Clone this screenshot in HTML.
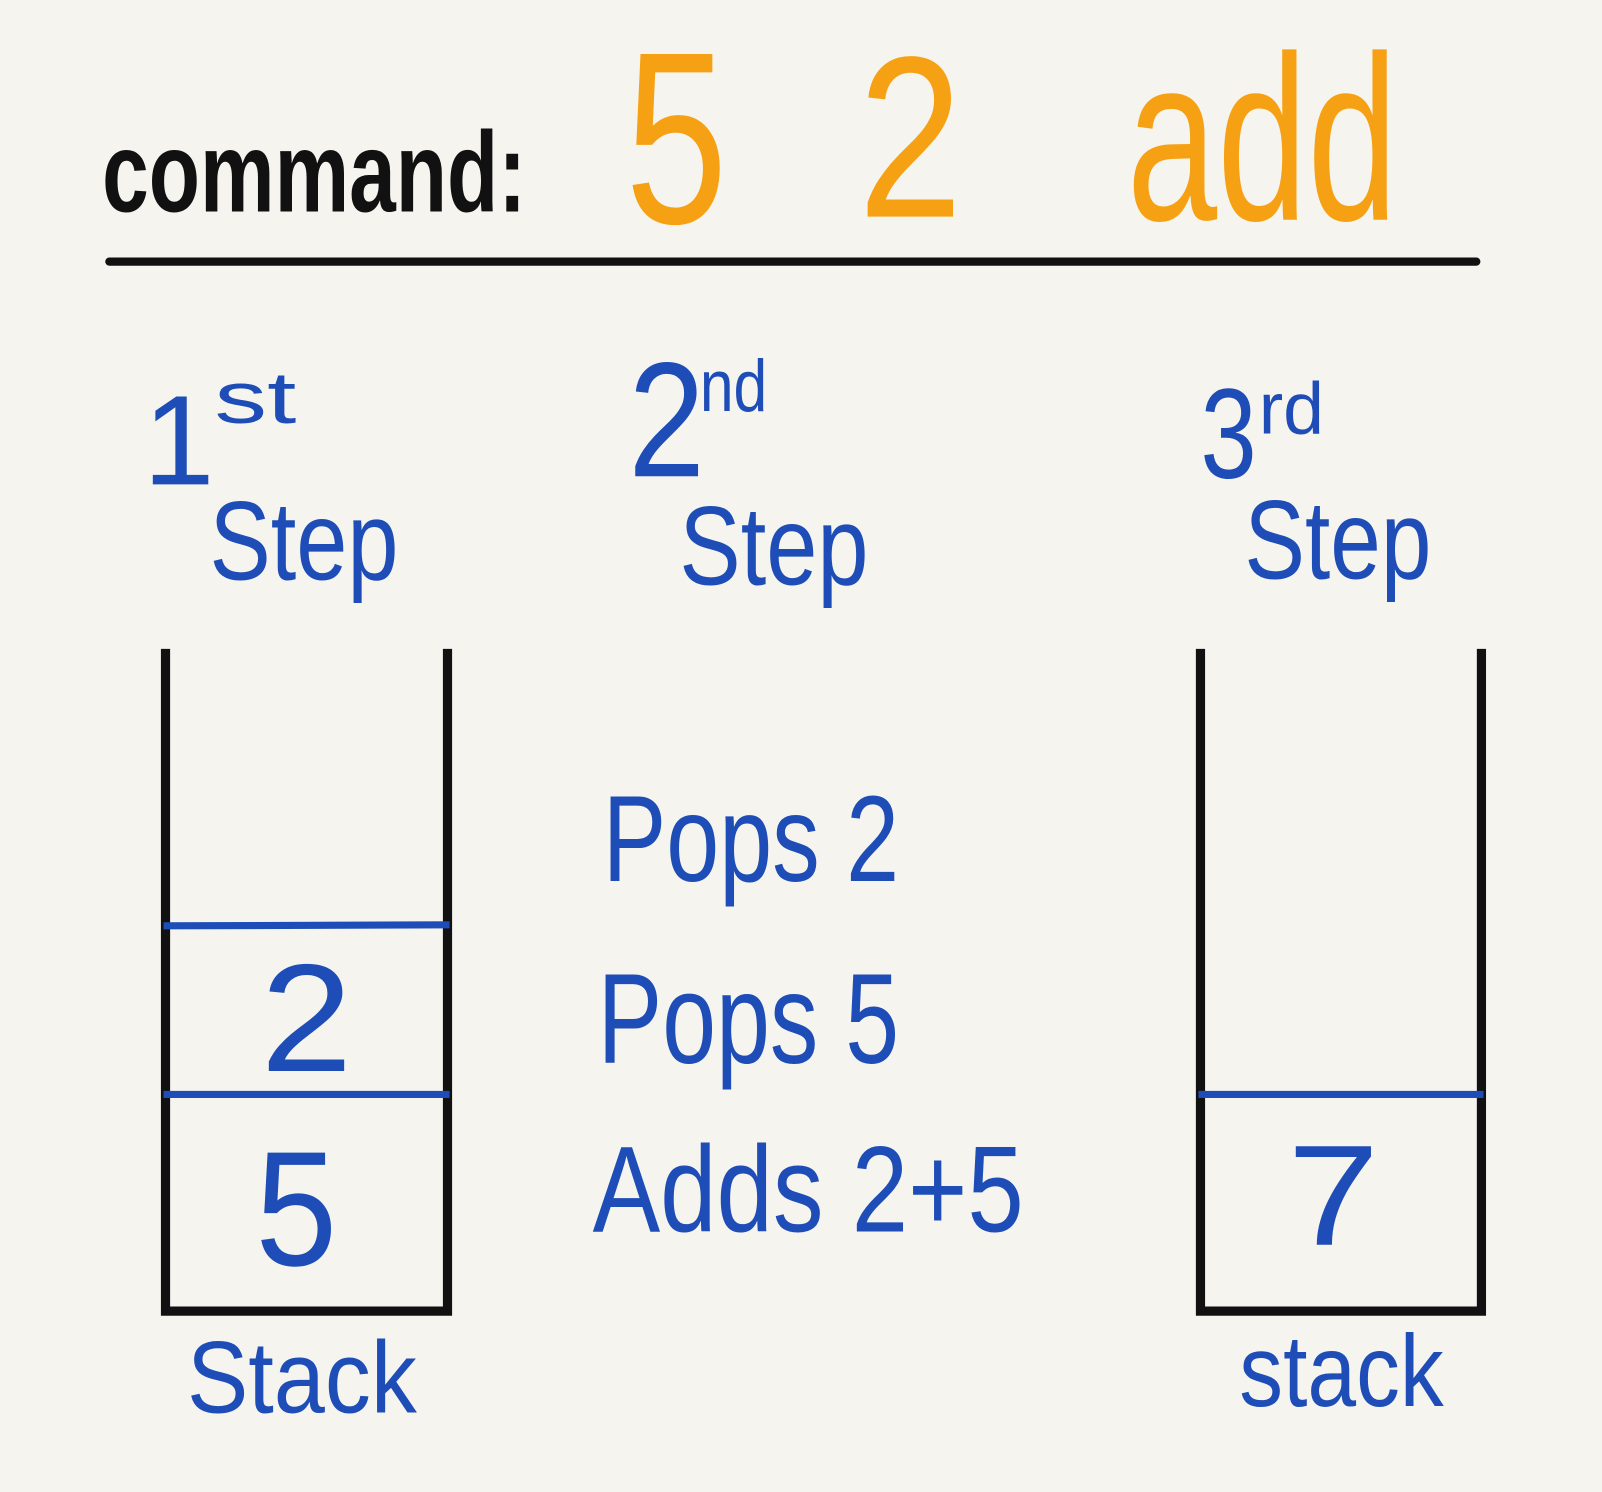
<!DOCTYPE html>
<html>
<head>
<meta charset="utf-8">
<style>
html,body{margin:0;padding:0;background:#f6f4ef;}
svg{display:block;}
text{font-family:"Liberation Sans","DejaVu Sans",sans-serif;}
.blue{fill:#1e4db7;}
.org{fill:#f6a113;}
</style>
</head>
<body>
<svg width="1602" height="1492" viewBox="0 0 1568 1460" preserveAspectRatio="none" xmlns="http://www.w3.org/2000/svg">
  <rect x="0" y="0" width="1568" height="1460" fill="#f6f4ef"/>
  <text x="100" y="207" font-size="112" font-weight="bold" fill="#111" textLength="415" lengthAdjust="spacingAndGlyphs">command:</text>
  <text class="org" x="612" y="218" font-size="240" textLength="100" lengthAdjust="spacingAndGlyphs">5</text>
  <text class="org" x="840" y="212" font-size="225" textLength="102" lengthAdjust="spacingAndGlyphs">2</text>
  <text class="org" x="1103" y="215" font-size="230" textLength="265" lengthAdjust="spacingAndGlyphs">add</text>
  <line x1="107" y1="256" x2="1445" y2="256" stroke="#111" stroke-width="8" stroke-linecap="round"/>

  <g>
    <text class="blue" x="140" y="474" font-size="125" textLength="70" lengthAdjust="spacingAndGlyphs">1</text>
    <text class="blue" x="210" y="414" font-size="72" textLength="80" lengthAdjust="spacingAndGlyphs">st</text>
    <text class="blue" x="205" y="567" font-size="110" textLength="185" lengthAdjust="spacingAndGlyphs">Step</text>
  </g>
  <g>
    <text class="blue" x="615" y="466" font-size="160" textLength="75" lengthAdjust="spacingAndGlyphs">2</text>
    <text class="blue" x="685" y="402" font-size="72" textLength="66" lengthAdjust="spacingAndGlyphs">nd</text>
    <text class="blue" x="665" y="572" font-size="110" textLength="185" lengthAdjust="spacingAndGlyphs">Step</text>
  </g>
  <g>
    <text class="blue" x="1175" y="468" font-size="125" textLength="55" lengthAdjust="spacingAndGlyphs">3</text>
    <text class="blue" x="1232" y="424" font-size="72" textLength="64" lengthAdjust="spacingAndGlyphs">rd</text>
    <text class="blue" x="1218" y="566" font-size="110" textLength="183" lengthAdjust="spacingAndGlyphs">Step</text>
  </g>

  <g fill="none">
    <polyline points="162,635 162,1283 438,1283 438,635" stroke="#111" stroke-width="9"/>
    <line x1="160" y1="906" x2="440" y2="905" stroke="#1e4db7" stroke-width="7"/>
    <line x1="160" y1="1071" x2="440" y2="1071" stroke="#1e4db7" stroke-width="7"/>
  </g>
  <text class="blue" x="255" y="1048" font-size="150" textLength="90" lengthAdjust="spacingAndGlyphs">2</text>
  <text class="blue" x="250" y="1238" font-size="160" textLength="80" lengthAdjust="spacingAndGlyphs">5</text>
  <text class="blue" x="183" y="1382" font-size="100" textLength="225" lengthAdjust="spacingAndGlyphs">Stack</text>

  <g fill="none">
    <polyline points="1175,635 1175,1283 1450,1283 1450,635" stroke="#111" stroke-width="9"/>
    <line x1="1173" y1="1071" x2="1452" y2="1071" stroke="#1e4db7" stroke-width="7"/>
  </g>
  <text class="blue" x="1260" y="1218" font-size="140" textLength="90" lengthAdjust="spacingAndGlyphs">7</text>
  <text class="blue" x="1213" y="1376" font-size="100" textLength="200" lengthAdjust="spacingAndGlyphs">stack</text>

  <text class="blue" x="590" y="862" font-size="120" textLength="290" lengthAdjust="spacingAndGlyphs">Pops 2</text>
  <text class="blue" x="585" y="1040" font-size="125" textLength="295" lengthAdjust="spacingAndGlyphs">Pops 5</text>
  <text class="blue" x="580" y="1205" font-size="120" textLength="422" lengthAdjust="spacingAndGlyphs">Adds 2+5</text>
</svg>
</body>
</html>
